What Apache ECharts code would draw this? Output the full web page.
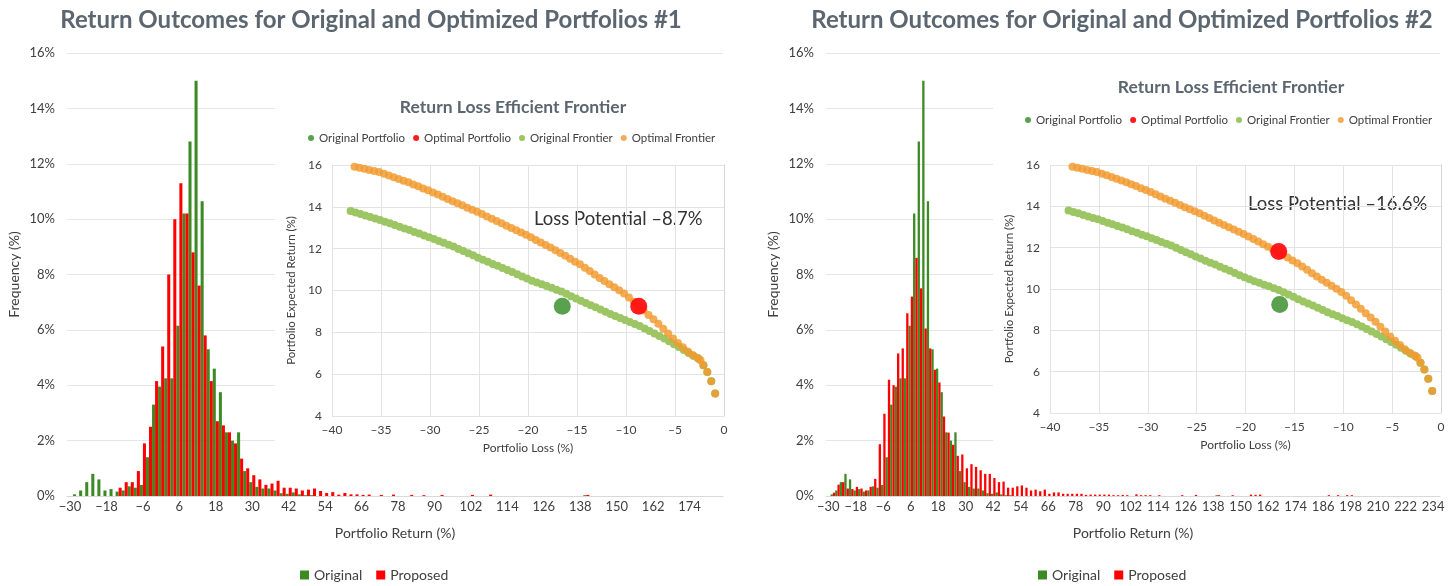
<!DOCTYPE html>
<html>
<head>
<meta charset="utf-8">
<script src="https://cdn.jsdelivr.net/npm/echarts@6/dist/echarts.min.js"></script>
<style>
  html, body { margin: 0; padding: 0; background: #fff; }
  #main { position: absolute; left: 0; top: 0; width: 1450px; height: 586px; }
  .inset { position: absolute; background: #fff; }
  #inset1 { left: 275px; top: 85px; width: 470px; height: 380px; }
  #inset2 { left: 993px; top: 62px; width: 457px; height: 400px; }
</style>
</head>
<body>
<div id="main"></div>
<div id="inset1" class="inset"></div>
<div id="inset2" class="inset"></div>
<script>
// histogram bins (portfolio return, %), 2-point wide
const returnBins1 = [-30,-28,-26,-24,-22,-20,-18,-16,-14,-12,-10,-8,-6,-4,-2,0,2,4,6,8,10,12,14,16,18,20,22,24,26,28,30,32,34,36,38,40,42,44,46,48,50,52,54,56,58,60,62,64,66,68,70,72,74,76,78,80,82,84,86,88,90,92,94,96,98,100,102,104,106,108,110,112,114,116,118,120,122,124,126,128,130,132,134,136,138,140,142,144,146,148,150,152,154,156,158,160,162,164,166,168,170,172,174,176,178,180,182,184];
const returnBins2 = [-30,-28,-26,-24,-22,-20,-18,-16,-14,-12,-10,-8,-6,-4,-2,0,2,4,6,8,10,12,14,16,18,20,22,24,26,28,30,32,34,36,38,40,42,44,46,48,50,52,54,56,58,60,62,64,66,68,70,72,74,76,78,80,82,84,86,88,90,92,94,96,98,100,102,104,106,108,110,112,114,116,118,120,122,124,126,128,130,132,134,136,138,140,142,144,146,148,150,152,154,156,158,160,162,164,166,168,170,172,174,176,178,180,182,184,186,188,190,192,194,196,198,200,202,204,206,208,210,212,214,216,218,220,222,224,226,228,230,232,234,236];

// frequency (%) – original portfolio (same in both charts)
const originalFreq = [
  0, 0.06, 0.2, 0.5, 0.8, 0.6, 0.2, 0.25, 0.16, 0.2,
  0.35, 0.3, 0.4, 1.4, 3.3, 3.95, 4.25, 4.25, 6.15, 10.2,
  12.8, 15.0, 10.65, 5.3, 4.6, 3.75, 2.3, 2.0, 2.3, 0.9,
  0.5, 0.33, 0.27, 0.27, 0.2, 0.1, 0.08, 0.13, 0.06, 0.03,
  0.03, 0, 0, 0, 0, 0, 0, 0, 0, 0,
  0, 0, 0, 0, 0, 0, 0, 0, 0, 0,
  0, 0, 0, 0, 0, 0, 0, 0, 0, 0,
  0, 0, 0, 0, 0, 0, 0, 0, 0, 0,
  0, 0, 0, 0, 0, 0.03, 0, 0, 0, 0,
  0, 0, 0, 0, 0, 0, 0, 0, 0, 0,
  0, 0, 0, 0, 0, 0, 0, 0, 0, 0,
  0, 0, 0, 0, 0, 0, 0, 0, 0, 0,
  0, 0, 0, 0, 0, 0, 0, 0, 0, 0,
  0, 0, 0, 0
];
// frequency (%) – proposed portfolio, chart #1
const proposedFreq1 = [
  0, 0, 0, 0, 0, 0, 0, 0, 0.3, 0.5,
  0.5, 0.9, 1.9, 2.5, 4.15, 5.4, 8.0, 10.0, 11.3, 10.2,
  8.8, 7.6, 5.8, 4.15, 2.7, 2.55, 2.3, 1.9, 1.35, 1.0,
  0.75, 0.6, 0.4, 0.45, 0.55, 0.3, 0.3, 0.27, 0.2, 0.23,
  0.27, 0.18, 0.11, 0.14, 0.05, 0.11, 0.06, 0.06, 0.04, 0.05,
  0, 0.04, 0, 0.05, 0, 0, 0.04, 0, 0.03, 0,
  0, 0.04, 0, 0, 0, 0, 0.04, 0, 0, 0.05,
  0, 0, 0, 0, 0, 0, 0, 0, 0, 0,
  0, 0, 0, 0, 0, 0.04, 0, 0, 0, 0,
  0, 0, 0, 0, 0, 0, 0, 0, 0, 0,
  0, 0, 0, 0, 0, 0, 0, 0
];
// frequency (%) – proposed portfolio, chart #2
const proposedFreq2 = [
  0, 0.12, 0.41, 0.5, 0.27, 0.25, 0.33, 0.27, 0.2, 0.33,
  0.62, 1.87, 2.97, 4.2, 4.0, 5.15, 5.33, 6.6, 7.2, 8.6,
  7.5, 6.05, 5.33, 4.56, 4.1, 2.87, 2.29, 1.85, 1.45, 1.5,
  1.0, 1.15, 1.05, 0.93, 0.8, 0.8, 0.65, 0.5, 0.52, 0.3,
  0.3, 0.35, 0.38, 0.3, 0.2, 0.23, 0.17, 0.23, 0.08, 0.13,
  0.13, 0.08, 0.08, 0.08, 0.08, 0.08, 0.04, 0.05, 0.05, 0.05,
  0.05, 0.05, 0.03, 0.03, 0.04, 0.03, 0, 0.06, 0.03, 0.03,
  0.03, 0, 0.03, 0, 0, 0, 0, 0.03, 0, 0,
  0.04, 0, 0, 0, 0, 0.03, 0, 0, 0.03, 0,
  0, 0, 0.05, 0.04, 0.05, 0, 0, 0, 0, 0,
  0, 0, 0, 0, 0, 0, 0, 0, 0, 0.03,
  0, 0.03, 0, 0.03, 0.03, 0, 0, 0, 0, 0,
  0, 0, 0, 0, 0, 0, 0, 0, 0, 0,
  0, 0, 0, 0
];

// efficient frontiers: [portfolio loss %, expected return %]
const originalFrontier = [
  [-38.1,13.80],[-37.6,13.73],[-37.1,13.66],[-36.6,13.58],[-36.1,13.51],[-35.6,13.44],[-35.1,13.37],
  [-34.6,13.29],[-34.1,13.21],[-33.6,13.13],[-33.1,13.05],[-32.6,12.97],[-32.1,12.89],[-31.6,12.80],
  [-31.1,12.72],[-30.6,12.63],[-30.1,12.55],[-29.6,12.46],[-29.1,12.37],[-28.6,12.28],[-28.1,12.19],
  [-27.6,12.10],[-27.1,11.99],[-26.6,11.89],[-26.1,11.78],[-25.6,11.68],[-25.1,11.57],[-24.6,11.47],
  [-24.1,11.37],[-23.6,11.27],[-23.1,11.18],[-22.6,11.08],[-22.1,10.98],[-21.6,10.88],[-21.1,10.78],
  [-20.6,10.67],[-20.1,10.57],[-19.6,10.47],[-19.1,10.38],[-18.6,10.30],[-18.1,10.21],[-17.6,10.13],
  [-17.1,10.04],[-16.6,9.95],[-16.1,9.84],[-15.6,9.73],[-15.1,9.62],[-14.6,9.51],[-14.1,9.40],
  [-13.6,9.30],[-13.1,9.20],[-12.6,9.09],[-12.1,8.98],[-11.6,8.88],[-11.1,8.78],[-10.6,8.69],
  [-10.1,8.59],[-9.6,8.49],[-9.1,8.40],[-8.6,8.30],[-8.1,8.18],[-7.6,8.06],[-7.1,7.94],[-6.6,7.82],
  [-6.1,7.70],[-5.6,7.57],[-5.1,7.43],[-4.6,7.30],[-4.1,7.16],[-3.6,7.01],[-3.1,6.87],[-2.6,6.74],
  [-2.1,6.43],[-1.7,6.10],[-1.3,5.66],[-0.9,5.07]
];
const optimalFrontier = [
  [-37.7,15.92],[-37.2,15.87],[-36.7,15.82],[-36.2,15.76],[-35.7,15.71],[-35.2,15.66],[-34.7,15.58],
  [-34.2,15.50],[-33.7,15.42],[-33.2,15.33],[-32.7,15.25],[-32.2,15.17],[-31.7,15.07],[-31.2,14.98],
  [-30.7,14.88],[-30.2,14.79],[-29.7,14.69],[-29.2,14.59],[-28.7,14.48],[-28.2,14.37],[-27.7,14.27],
  [-27.2,14.17],[-26.7,14.07],[-26.2,13.96],[-25.7,13.86],[-25.2,13.76],[-24.7,13.66],[-24.2,13.54],
  [-23.7,13.43],[-23.2,13.32],[-22.7,13.21],[-22.2,13.10],[-21.7,12.99],[-21.2,12.88],[-20.7,12.77],
  [-20.2,12.66],[-19.7,12.54],[-19.2,12.42],[-18.7,12.30],[-18.2,12.17],[-17.7,12.05],[-17.2,11.92],
  [-16.7,11.79],[-16.2,11.66],[-15.7,11.52],[-15.2,11.38],[-14.7,11.25],[-14.2,11.09],[-13.7,10.93],
  [-13.2,10.76],[-12.7,10.60],[-12.2,10.45],[-11.7,10.30],[-11.2,10.16],[-10.7,10.01],[-10.2,9.86],
  [-9.7,9.67],[-9.2,9.46],[-8.7,9.25],[-8.2,9.04],[-7.7,8.83],[-7.2,8.62],[-6.7,8.41],[-6.2,8.17],
  [-5.7,7.94],[-5.2,7.70],[-4.7,7.49],[-4.2,7.29],[-3.7,7.08],[-3.2,6.92],[-2.7,6.78],[-2.4,6.67],
  [-2.1,6.43],[-1.7,6.10],[-1.3,5.66],[-0.9,5.07]
];
const originalPortfolio = [-16.5, 9.25];
const optimalPortfolio1 = [-8.7, 9.25];
const optimalPortfolio2 = [-16.6, 11.82];

const FONT = 'Lato, "Noto Sans", sans-serif';
const TITLE_COLOR = '#5b6670';
const TEXT_COLOR = '#404040';
const GREEN = '#3b8a24';
const RED = '#ff0000';

const minusFmt = v => String(v).replace('-', '\u2212');

// ===== histograms =====
const main = echarts.init(document.getElementById('main'));

function histAxes(idx, cats) {
  return {
    x: {
      type: 'category', gridIndex: idx, data: cats,
      axisTick: { show: false },
      axisLine: { lineStyle: { color: '#d9d9d9' } },
      axisLabel: { interval: 5, color: TEXT_COLOR, fontSize: 13, fontFamily: FONT, margin: 4, formatter: minusFmt },
      name: 'Portfolio Return (%)', nameLocation: 'middle', nameGap: 30,
      nameTextStyle: { color: TEXT_COLOR, fontSize: 14, fontFamily: FONT }
    },
    y: {
      type: 'value', gridIndex: idx, min: 0, max: 16, interval: 2,
      axisLabel: { formatter: '{value}%', color: TEXT_COLOR, fontSize: 13, fontFamily: FONT, margin: 12 },
      splitLine: { lineStyle: { color: '#e6e6e6' } },
      name: 'Frequency (%)', nameLocation: 'middle', nameGap: 46,
      nameTextStyle: { color: TEXT_COLOR, fontSize: 14, fontFamily: FONT }
    }
  };
}
const h1 = histAxes(0, returnBins1);
const h2 = histAxes(1, returnBins2);

function barSeries(name, color, idx, data) {
  return {
    name: name, type: 'bar', xAxisIndex: idx, yAxisIndex: idx,
    data: data, barGap: '0%', barCategoryGap: '0%',
    itemStyle: { color: color }, animation: false
  };
}

main.setOption({
  animation: false,
  title: [
    { text: 'Return Outcomes for Original and Optimized Portfolios #1', left: 366, top: 3, textAlign: 'center',
      textStyle: { fontFamily: FONT, fontWeight: 'bold', fontSize: 24, color: TITLE_COLOR } },
    { text: 'Return Outcomes for Original and Optimized Portfolios #2', left: 1117, top: 3, textAlign: 'center',
      textStyle: { fontFamily: FONT, fontWeight: 'bold', fontSize: 24, color: TITLE_COLOR } }
  ],
  legend: [
    { data: ['Original', 'Proposed'], left: 295, top: 563, icon: 'rect', itemWidth: 9, itemHeight: 9, itemGap: 14,
      textStyle: { color: TEXT_COLOR, fontSize: 14, fontFamily: FONT } },
    { data: ['Original', 'Proposed'], left: 1033, top: 563, icon: 'rect', itemWidth: 9, itemHeight: 9, itemGap: 14,
      textStyle: { color: TEXT_COLOR, fontSize: 14, fontFamily: FONT } }
  ],
  grid: [
    { left: 67, top: 53, width: 656, height: 443 },
    { left: 826, top: 53, width: 614, height: 443 }
  ],
  xAxis: [h1.x, h2.x],
  yAxis: [h1.y, h2.y],
  series: [
    barSeries('Original', GREEN, 0, originalFreq.slice(0, returnBins1.length)),
    barSeries('Proposed', RED, 0, proposedFreq1),
    barSeries('Original', GREEN, 1, originalFreq),
    barSeries('Proposed', RED, 1, proposedFreq2)
  ]
});

// ===== inset: return loss efficient frontier =====
function makeInset(el, cfg) {
  const chart = echarts.init(el);
  chart.setOption({
    animation: false,
    title: {
      text: 'Return Loss Efficient Frontier', left: cfg.titleX, top: cfg.titleTop, textAlign: 'center',
      textStyle: { fontFamily: FONT, fontWeight: 'bold', fontSize: 17.5, color: TITLE_COLOR }
    },
    legend: {
      data: ['Original Portfolio', 'Optimal Portfolio', 'Original Frontier', 'Optimal Frontier'],
      left: cfg.legendLeft, top: cfg.legendTop, width: 450, icon: 'circle', itemWidth: 6, itemHeight: 6, itemGap: 8,
      textStyle: { color: TEXT_COLOR, fontSize: 11.5, fontFamily: FONT }
    },
    grid: cfg.grid,
    xAxis: {
      type: 'value', min: -40, max: 0, interval: 5,
      axisLine: { show: false }, axisTick: { show: false },
      splitLine: { lineStyle: { color: '#e3e3e3' } },
      axisLabel: { color: TEXT_COLOR, fontSize: 12, fontFamily: FONT, margin: 8, formatter: v => String(v).replace('-', '\u2013') },
      name: 'Portfolio Loss (%)', nameLocation: 'middle', nameGap: 26,
      nameTextStyle: { color: TEXT_COLOR, fontSize: 12, fontFamily: FONT }
    },
    yAxis: {
      type: 'value', min: 4, max: 16, interval: 2,
      axisLine: { show: true, lineStyle: { color: '#d6d6d6' } }, axisTick: { show: false },
      splitLine: { lineStyle: { color: '#e3e3e3' } },
      axisLabel: { color: TEXT_COLOR, fontSize: 12, fontFamily: FONT, margin: 10 },
      name: 'Portfolio Expected Return (%)', nameLocation: 'middle', nameGap: 21,
      nameTextStyle: { color: TEXT_COLOR, fontSize: 11.5, fontFamily: FONT }
    },
    graphic: [{
      type: 'text', left: cfg.lossX, top: cfg.lossTop,
      style: { text: cfg.lossText, fill: '#333', fontSize: 18.5, fontFamily: FONT }
    }],
    series: [
      { name: 'Original Frontier', type: 'scatter', data: originalFrontier, symbolSize: 8,
        itemStyle: { color: '#9cc564', opacity: 1 }, z: 2 },
      { name: 'Optimal Frontier', type: 'scatter', data: optimalFrontier, symbolSize: 8,
        itemStyle: { color: '#f29a2e', opacity: 0.82 }, z: 3 },
      { name: 'Original Portfolio', type: 'scatter', data: [originalPortfolio], symbolSize: 17,
        itemStyle: { color: '#2f8a23' }, z: 4 },
      { name: 'Optimal Portfolio', type: 'scatter', data: [cfg.optimal], symbolSize: 17,
        itemStyle: { color: '#ff1010', opacity: 0.95 }, z: 5 }
    ]
  });
  return chart;
}

makeInset(document.getElementById('inset1'), {
  titleX: 233, titleTop: 8, legendLeft: 28, legendTop: 42,
  grid: { left: 57, top: 80, width: 392, height: 251 },
  lossX: 259, lossTop: 125, lossText: 'Loss Potential \u20138.7%', optimal: optimalPortfolio1
});
makeInset(document.getElementById('inset2'), {
  titleX: 233, titleTop: 11, legendLeft: 27, legendTop: 47,
  grid: { left: 57, top: 103, width: 391, height: 248 },
  lossX: 255, lossTop: 133, lossText: 'Loss Potential \u201316.6%', optimal: optimalPortfolio2
});
</script>
</body>
</html>
